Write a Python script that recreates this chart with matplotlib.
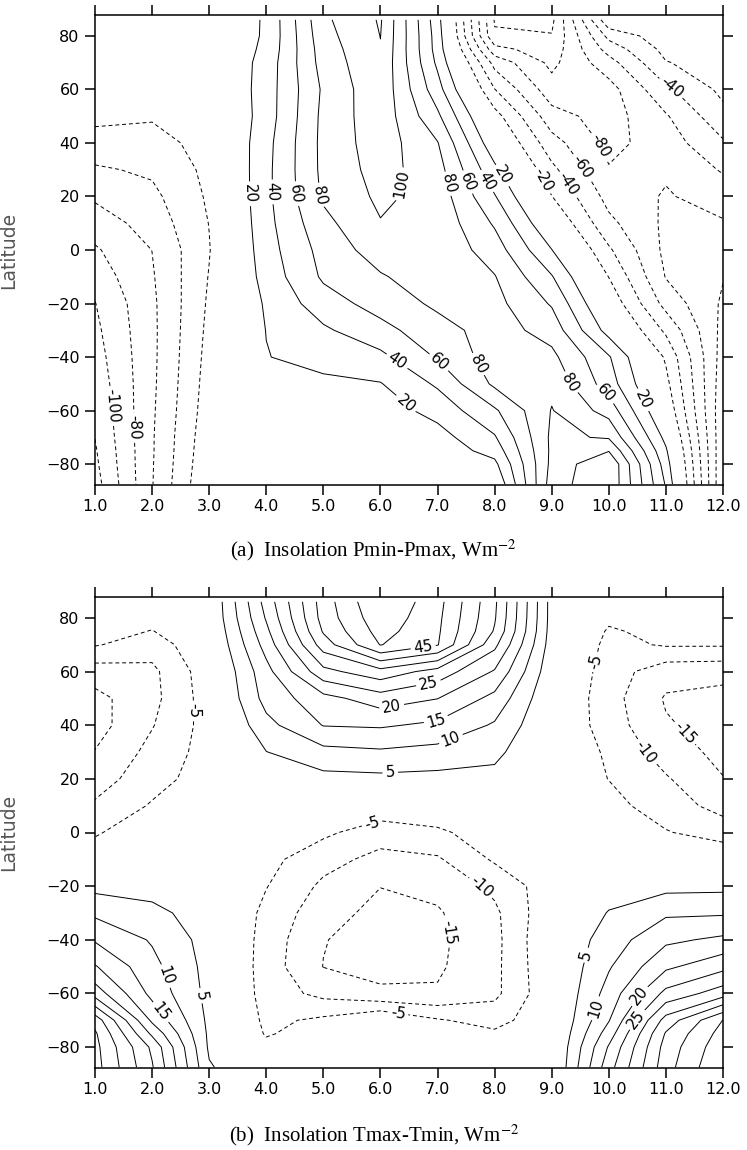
import numpy as np
import matplotlib
matplotlib.use("Agg")
import matplotlib.pyplot as plt

# ---------------- data ----------------
months = [1, 2, 3, 4, 5, 6, 7, 8, 9, 10, 11, 12]
lats = [-87.5, -80, -75, -70, -60, -50, -40, -30, -20, -10, 0,
        10, 20, 30, 40, 50, 60, 70, 75, 80, 86]

# Panel (a): Insolation Pmin-Pmax (W m-2), one list per month, south -> north
a_m01 = [-128, -124, -122, -119.7, -116, -112.5, -108.5, -104.5, -100.6, -91, -82.5, -70, -57, -42.7, -27.7, -15, -9, -4, -2, -1, 0]
a_m02 = [-61, -61.5, -62, -62, -63, -64, -64.5, -64.5, -64, -62, -59.8, -52, -45, -36.7, -27, -18, -12, -6, -4, -2, 0]
a_m03 = [0, -3, -4.5, -6, -9, -11, -13, -15, -17, -19, -21, -19.5, -17, -15, -13, -11, -8, -5, -3.5, -2, 0]
a_m04 = [0, 0, 1, 2, 5, 10, 19.2, 20.5, 22.9, 28.2, 31.6, 33.7, 35, 34.7, 33.6, 30, 30, 28, 25, 23, 22.5]
a_m05 = [0, 0, 0.5, 3, 8, 15, 28.3, 36.8, 51, 63, 67, 74.3, 83, 85, 85.5, 85, 83, 88, 90, 93, 96]
a_m06 = [0, 1, 1.5, 4, 10, 19, 35, 53.7, 67.8, 78, 90, 99, 104, 108, 111, 113, 115, 117, 119, 120.3, 122]
a_m07 = [0, 3, 7, 12, 27, 43, 62, 72, 84, 92, 95, 94, 92, 88, 81, 64, 48, 36, 32, 31, 28]
a_m08 = [0, 15, 28, 38, 57, 84, 90, 89, 86, 81, 70, 57.5, 41.5, 25, 5, -12, -39.5, -67, -93, -118, -121.5]
a_m09 = [110, 105.4, 104, 104, 101, 95, 85, 72, 58, 41.5, 20.5, 0, -19.5, -35, -52, -72, -92, -105, -112, -119, -125]
a_m10 = [138, 139, 119, 98, 72, 50, 42, 12, -5, -20.5, -37, -55, -67, -78.5, -86, -89, -88, -68, -52, -34, -3]
a_m11 = [38, 30, 23, 14, -3, -14, -23, -44, -67, -81, -85, -84, -82, -77, -70, -62, -44, -21, -14, -8, -2]
a_m12 = [-119, -118, -117, -116, -115, -112, -109, -106, -103, -99, -91, -82, -70.5, -58, -42.5, -26, -15, -11, -8.5, -6, -2]

# Panel (b): Insolation Tmax-Tmin (W m-2), one list per month, south -> north
b_m01 = [47, 46.5, 45.8, 43, 27.7, 20.4, 14.5, 9, 3.5, -2.5, -5.5, -9.3, -12.3, -14.8, -17, -16.5, -12.5, -4.6, -3, -1.5, 0]
b_m02 = [30.5, 29, 24, 19, 13.5, 11.5, 9.5, 6.4, 3, 0, -2, -4.5, -7, -8.5, -10.3, -11.5, -11.2, -7.6, -5.2, -3.5, -1]
b_m03 = [5.5, 4.2, 4, 3.8, 3.5, 3.3, 3, 2.5, 2, 1, 0, -1.5, -2.5, -3, -3, -2.5, -2, -1, -0.5, 0, 0]
b_m04 = [0, -3.5, -5.5, -6.2, -7.2, -7.5, -7.2, -6.5, -4.8, -3.5, -2, 0, 2, 4.9, 8.5, 11.8, 13.3, 17, 18.8, 20.5, 22]
b_m05 = [0, -1, -2.5, -4, -11.5, -15.1, -14.8, -13, -11, -8.2, -4, -1.2, 3.5, 8.5, 15.2, 18.3, 28.5, 37.5, 40.5, 42, 42.5]
b_m06 = [0, 0, 0, 0, -14.2, -16.5, -17, -16.5, -14.9, -11.5, -7.7, -1.5, 3.8, 9.3, 15.6, 22.6, 33.2, 50.2, 52, 53.5, 55]
b_m07 = [0, -0.5, -2, -4.5, -14.5, -15.7, -16, -15.5, -13.7, -10.6, -6.2, 0, 3.5, 8.3, 14, 20.1, 28, 45.3, 45.8, 46.2, 46.8]
b_m08 = [0, -2, -4, -7, -11.2, -11.3, -11.5, -11, -8.8, -4.3, -1.5, 1, 3.5, 6.3, 9.4, 13.5, 19.5, 26.3, 29.5, 30.5, 31]
b_m09 = [-1, -1, -1, -1, -1, -0.5, 0, -1, -2, -2.5, -2, -1.5, -1, -0.5, 0, 0.5, 1.5, 2.5, 2.8, 3, 3]
b_m10 = [23, 20.5, 17.5, 14.7, 12, 9.5, 7.4, 5.3, 2.5, 0, -1.5, -3.5, -5.1, -5.8, -7.5, -8, -7.5, -6.5, -5.6, -4, -1]
b_m11 = [43, 42, 40.5, 37, 26.4, 19, 14, 9.2, 3.5, -1, -4.7, -7.3, -9.5, -12.3, -14.5, -15.5, -13, -4.5, -3.5, -2.5, -1]
b_m12 = [55, 53.5, 52, 50.1, 32.6, 23.5, 16, 9.4, 3.7, -1.5, -7, -12, -14.8, -16.5, -17, -16.5, -13.5, -4.5, -3, -2.5, -1]

levels_a = [-140, -120, -100, -80, -60, -40, -20, 20, 40, 60, 80, 100, 120, 140]
levels_b = [-20, -15, -10, -5, 5, 10, 15, 20, 25, 30, 35, 40, 45, 50, 55]

xtick_vals = [1, 2, 3, 4, 5, 6, 7, 8, 9, 10, 11, 12]
xtick_labels = ["1.0", "2.0", "3.0", "4.0", "5.0", "6.0", "7.0", "8.0", "9.0", "10.0", "11.0", "12.0"]
ytick_vals = [-80, -60, -40, -20, 0, 20, 40, 60, 80]
ytick_labels = ["\u221280", "\u221260", "\u221240", "\u221220", "0", "20", "40", "60", "80"]

caption_a = "(a)  Insolation Pmin-Pmax, Wm$^{-2}$"
caption_b = "(b)  Insolation Tmax-Tmin, Wm$^{-2}$"
ylabel = "Latitude"

# label anchor points (month, latitude)
labels_a = [(3.7, 21), (4.11, 21.7), (4.5, 21), (4.93, 20.5), (6.46, 24.2),
            (7.19, 24.8), (7.53, 25.4), (7.89, 26), (8.15, 28),
            (8.79, 25.4), (9.26, 24.2), (9.44, 29.8), (9.79, 38.5), (11.1, 60.8),
            (1.26, -58.4), (1.65, -66.4),
            (6.28, -41.9), (6.46, -57), (7.04, -41.6), (7.7, -42.8),
            (9.32, -49.6), (9.96, -53.4), (10.55, -56.5)]
labels_b = [(2.66, 45.3), (6.75, 68.9), (6.84, 55.8), (6.2, 46.5), (6.98, 41.5), (7.25, 34),
            (6.17, 22.9), (5.85, 3.6), (7.63, -23.1), (7.19, -37.4), (6.31, -66.7),
            (9.7, 63.9), (10.54, 28.5), (11.19, 34.3),
            (2.23, -53.6), (2.81, -61), (2.17, -66.7),
            (9.67, -46.1), (9.84, -66), (10.54, -61), (10.49, -69.8)]

# ---------------- drawing ----------------
plt.rcParams['font.family'] = ['DejaVu Sans']
plt.rcParams['mathtext.fontset'] = 'stix'

W, H = 747, 1150
fig = plt.figure(figsize=(W / 100, H / 100), dpi=100)
ax_a = fig.add_axes([95 / W, (H - 485) / H, 628 / W, 470 / H])
ax_b = fig.add_axes([95 / W, (H - 1068) / H, 628 / W, 471 / H])


def draw(ax, cols, levels, label_pts):
    Z = np.array(cols, dtype=float).T
    styles = [(0, (4.0, 3.0)) if lv < 0 else 'solid' for lv in levels]
    cs = ax.contour(months, lats, Z, levels=levels, colors='black',
                    linewidths=0.7, linestyles=styles)
    ax.clabel(cs, fmt=lambda v: "%d" % v, fontsize=11, inline=True,
              inline_spacing=3, manual=label_pts)
    ax.set_xlim(1, 12)
    ax.set_ylim(-87.8, 87.8)
    ax.set_xticks(xtick_vals)
    ax.set_xticklabels(xtick_labels)
    ax.set_yticks(ytick_vals)
    ax.set_yticklabels(ytick_labels)
    ax.tick_params(direction='out', length=7, width=1.1, top=True, right=True,
                   labeltop=False, labelright=False, labelsize=11.5, pad=3)
    ax.tick_params(axis='y', pad=4)
    for s in ax.spines.values():
        s.set_linewidth(1.1)
    ax.set_ylabel(ylabel, fontsize=13.5, color='#555555')
    ax.yaxis.set_label_coords(-0.1226, 0.5)


draw(ax_a, [a_m01, a_m02, a_m03, a_m04, a_m05, a_m06, a_m07, a_m08, a_m09, a_m10, a_m11, a_m12],
     levels_a, labels_a)
draw(ax_b, [b_m01, b_m02, b_m03, b_m04, b_m05, b_m06, b_m07, b_m08, b_m09, b_m10, b_m11, b_m12],
     levels_b, labels_b)

fig.text(0.5, (H - 550) / H, caption_a, ha='center', va='center',
         family='Liberation Serif', fontsize=15)
fig.text(0.5, (H - 1135) / H, caption_b, ha='center', va='center',
         family='Liberation Serif', fontsize=15)

fig.savefig("out.png", dpi=100)
